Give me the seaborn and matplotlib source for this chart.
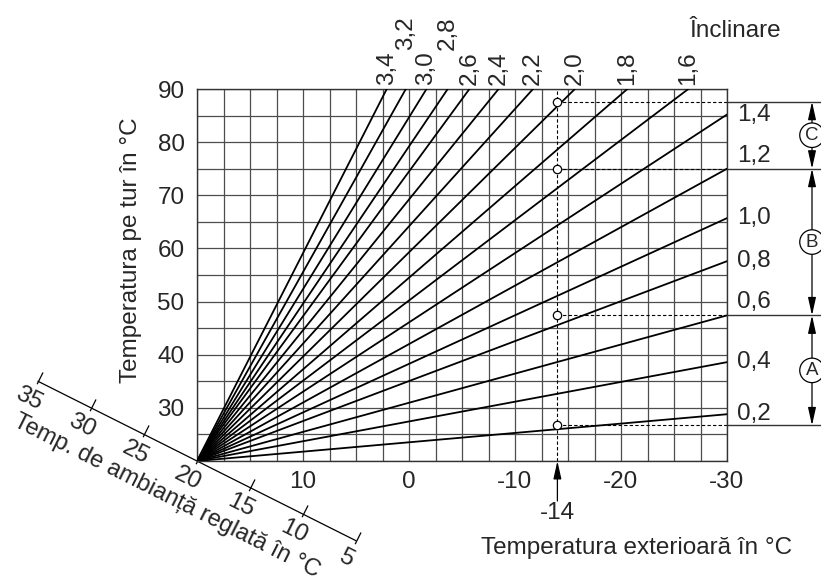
import numpy as np
import pandas as pd
import matplotlib
matplotlib.use('Agg')
import matplotlib.pyplot as plt
import matplotlib.transforms as mtransforms
from matplotlib.path import Path
import seaborn as sns

# every curve starts where flow = outdoor = room setpoint
room_set = 20

# curves that leave through the top edge: slope, outdoor temp at flow 90
slopes_top = [3.4, 3.2, 3.0, 2.8, 2.6, 2.4, 2.2, 2.0, 1.8, 1.6]
top_outdoor = [2.1, 0.3, -1.65, -3.65, -5.7, -8.45, -11.7, -15.65, -20.6, -26.35]
flow_max = 90

# curves that leave through the right edge: slope, flow temp at outdoor -30
slopes_right = [1.4, 1.2, 1.0, 0.8, 0.6, 0.4, 0.2]
right_flow = [85.2, 75.0, 65.7, 57.6, 47.4, 38.6, 28.8]
outdoor_min = -30

# design point at -14 and the slope ranges A/B/C
design_outdoor = -14
design_flow = [87.6, 75.0, 47.4, 26.7]
range_names = ['C', 'B', 'A']

room_ticks = [35, 30, 25, 20, 15, 10, 5]
outdoor_ticks = [10, 0, -10, -20, -30]
flow_ticks = [30, 40, 50, 60, 70, 80, 90]
raised_labels = [3.2, 2.8]

rows = []
for s, x in zip(slopes_top, top_outdoor):
    rows.append((s, room_set, room_set))
    rows.append((s, x, flow_max))
for s, y in zip(slopes_right, right_flow):
    rows.append((s, room_set, room_set))
    rows.append((s, outdoor_min, y))
curves = pd.DataFrame(rows, columns=['slope', 'outdoor', 'flow'])

sns.set_style('white')
plt.rcParams['font.family'] = ['Liberation Sans', 'DejaVu Sans']
FS = 17.5
PT = 0.72  # points per pixel at dpi 100


def lab(v):
    return f'{v:.1f}'.replace('.', ',')


fig = plt.figure(figsize=(8.21, 5.88), dpi=100)
ax = fig.add_axes([197 / 821, 127 / 588, 530 / 821, 372 / 588])

sns.lineplot(data=curves, x='outdoor', y='flow', units='slope', estimator=None,
             sort=False, color='black', lw=1.3, ax=ax, legend=False, zorder=3)
ax.set_xlim(room_set, outdoor_min)
ax.set_ylim(room_set, flow_max)
ax.set_xlabel('')
ax.set_ylabel('')

ax.set_xticks(outdoor_ticks)
ax.set_xticklabels([f'{t:g}' for t in outdoor_ticks])
ax.set_xticks(np.arange(outdoor_min, room_set + 0.1, 2.5), minor=True)
ax.set_yticks(flow_ticks)
ax.set_yticklabels([str(t) for t in flow_ticks])
ax.set_yticks(np.arange(room_set, flow_max + 0.1, 5), minor=True)
ax.grid(which='both', color='#4d4d4d', lw=0.9)
ax.set_axisbelow(True)
ax.tick_params(which='both', length=0, labelsize=FS)
ax.tick_params(axis='x', pad=7)
ax.tick_params(axis='y', pad=9)
for sp in ax.spines.values():
    sp.set_color('#333333')
    sp.set_linewidth(1)

# design point guides
dash = (0, (3, 2))
ax.plot([design_outdoor] * 2, [room_set, flow_max], color='black', lw=0.8, ls=dash, zorder=2)
for y in design_flow:
    ax.plot([design_outdoor, outdoor_min], [y, y], color='black', lw=0.8, ls=dash, zorder=2)
sns.scatterplot(x=[design_outdoor] * len(design_flow), y=design_flow, s=36, color='white',
                edgecolor='black', linewidth=0.9, zorder=5, ax=ax)

# range brackets on the right
trans = mtransforms.blended_transform_factory(ax.transAxes, ax.transData)
bx = (812 - 197) / 530
for y in design_flow:
    ax.plot([1, 1.25], [y, y], transform=trans, color='#333333', lw=1, clip_on=False)
for top, bot, name in zip(design_flow[:-1], design_flow[1:], range_names):
    ax.annotate('', xy=(bx, top), xytext=(bx, bot), xycoords=trans, textcoords=trans,
                arrowprops=dict(arrowstyle='<|-|>,head_length=0.9,head_width=0.2', color='black',
                                lw=0.9, shrinkA=0, shrinkB=0, mutation_scale=12),
                annotation_clip=False)
    ax.text(bx, (top + bot) / 2, name, transform=trans, ha='center', va='center', fontsize=13.5,
            bbox=dict(boxstyle='circle,pad=0.2', fc='white', ec='black', lw=0.9),
            zorder=6, clip_on=False)

# slope labels
for s, y in zip(slopes_right, right_flow):
    raised = y in design_flow
    ax.annotate(lab(s), (outdoor_min, y), xytext=(10 * PT, 2 * PT if raised else 0),
                textcoords='offset points', ha='left', va='bottom' if raised else 'center',
                fontsize=FS, annotation_clip=False)
for s, x in zip(slopes_top, top_outdoor):
    off = 39 if s in raised_labels else 4
    ax.annotate(lab(s), (x, flow_max), xytext=(0, off * PT), textcoords='offset points',
                rotation=90, ha='center', va='bottom', fontsize=FS, annotation_clip=False)
fig.text(735 / 821, 1 - 31 / 588, 'Înclinare', ha='center', va='center', fontsize=FS)

# oblique room setpoint axis (flow = outdoor)
p0 = ax.transData.transform((room_ticks[0], room_ticks[0]))
p1 = ax.transData.transform((room_ticks[-1], room_ticks[-1]))
ang = np.degrees(np.arctan2(p1[1] - p0[1], p1[0] - p0[0]))
ux, uy = np.cos(np.radians(ang)), np.sin(np.radians(ang))
nx, ny = uy, -ux
ax.plot([room_ticks[0], room_ticks[-1]], [room_ticks[0], room_ticks[-1]], color='black',
        lw=0.9, clip_on=False)
tick_mark = Path([(0.3 * nx, 0.3 * ny), (-nx, -ny)], [Path.MOVETO, Path.LINETO])
ax.plot(room_ticks, room_ticks, ls='none', marker=tick_mark, ms=13, mew=0.9,
        color='black', clip_on=False)
for t in room_ticks:
    ax.annotate(str(t), (t, t), xytext=(nx * 20 * PT, ny * 20 * PT), textcoords='offset points',
                rotation=ang, rotation_mode='anchor', ha='center', va='center', fontsize=FS,
                annotation_clip=False)
ax.annotate('Temp. de ambianță reglată în °C', (room_set, room_set),
            xytext=((nx * 45 - ux * 11) * PT, (ny * 45 - uy * 11) * PT),
            textcoords='offset points', rotation=ang, rotation_mode='anchor',
            ha='center', va='center', fontsize=17, annotation_clip=False)

# -14 marker under the outdoor axis
ax.annotate('', xy=(design_outdoor, room_set), xytext=(0, -40 * PT), textcoords='offset points',
            arrowprops=dict(arrowstyle='-|>,head_length=0.9,head_width=0.2', color='black',
                            lw=0.9, shrinkA=0, shrinkB=0, mutation_scale=12),
            annotation_clip=False)
ax.annotate('-14', (design_outdoor, room_set), xytext=(0, -52 * PT), textcoords='offset points',
            ha='center', va='center', fontsize=FS, annotation_clip=False)

fig.text(637 / 821, 1 - 548 / 588, 'Temperatura exterioară în °C', ha='center', va='center',
         fontsize=FS)
fig.text(131 / 821, 1 - 250 / 588, 'Temperatura pe tur în °C', ha='center', va='center',
         rotation=90, fontsize=FS)

fig.savefig('out.png', dpi=100)
